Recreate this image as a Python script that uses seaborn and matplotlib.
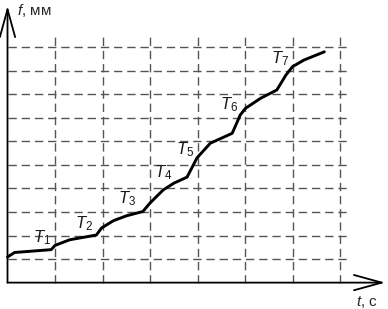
import matplotlib
matplotlib.use("Agg")
import matplotlib.pyplot as plt
import seaborn as sns
import pandas as pd

# Data
t_vals = [0.00, 0.15, 0.92, 1.00, 1.31, 1.87, 1.98, 2.23, 2.51, 2.85, 3.00, 3.28,
          3.50, 3.78, 3.99, 4.27, 4.73, 4.90, 5.01, 5.33, 5.67, 5.86, 6.00, 6.24, 6.67]
f_vals = [1.09, 1.28, 1.40, 1.58, 1.82, 2.02, 2.32, 2.63, 2.84, 3.02, 3.38, 3.94,
          4.22, 4.48, 5.30, 5.92, 6.34, 7.12, 7.40, 7.83, 8.18, 8.81, 9.17, 9.45, 9.80]
x_grid = [1, 2, 3, 4, 5, 6, 7]
y_grid = [1, 2, 3, 4, 5, 6, 7, 8, 9, 10]
period_labels = ["$T_1$", "$T_2$", "$T_3$", "$T_4$", "$T_5$", "$T_6$", "$T_7$"]
label_t = [0.73, 1.61, 2.52, 3.27, 3.74, 4.66, 5.74]
label_f = [1.89, 2.49, 3.55, 4.69, 5.63, 7.54, 9.53]
x_axis_label = "$t$, с"
y_axis_label = "$f$, мм"

sns.set_style("white")
plt.rcParams["font.family"] = ["Liberation Sans", "DejaVu Sans"]
plt.rcParams["mathtext.fontset"] = "custom"
plt.rcParams["mathtext.rm"] = "Liberation Sans"
plt.rcParams["mathtext.it"] = "Liberation Sans:italic"

fig = plt.figure(figsize=(3.88, 3.09), dpi=100)
ax = fig.add_axes([0, 0, 1, 1])
ax.set_xlim(-0.158, 8.01)
ax.set_ylim(-1.12, 12.0)
ax.axis("off")

grid_kw = dict(color="#555555", linewidth=1.0, linestyle=(0, (6, 3.5)))
ax.hlines(y_grid, 0, 7.15, **grid_kw)
ax.vlines(x_grid, 0, 10.51, **grid_kw)

df = pd.DataFrame({"t": t_vals, "f": f_vals})
sns.lineplot(data=df, x="t", y="f", ax=ax, color="black", linewidth=2.1,
             sort=False, estimator=None)
ax.set_xlabel("")
ax.set_ylabel("")

arrow_kw = dict(arrowstyle="->,head_length=2.0,head_width=0.55", color="black",
                lw=1.3, shrinkA=0, shrinkB=0, mutation_scale=10)
ax.annotate("", xy=(0, 11.75), xytext=(0, 0), arrowprops=arrow_kw)
ax.annotate("", xy=(7.95, 0), xytext=(0, 0), arrowprops=arrow_kw)

for lab, x, y in zip(period_labels, label_t, label_f):
    ax.text(x, y, lab, fontsize=12, ha="center", va="center", color="#1a1a1a")

ax.text(7.57, -0.82, x_axis_label, fontsize=11, ha="center", va="center")
ax.text(0.56, 11.57, y_axis_label, fontsize=11, ha="center", va="center")

fig.savefig("out.png", dpi=100)
